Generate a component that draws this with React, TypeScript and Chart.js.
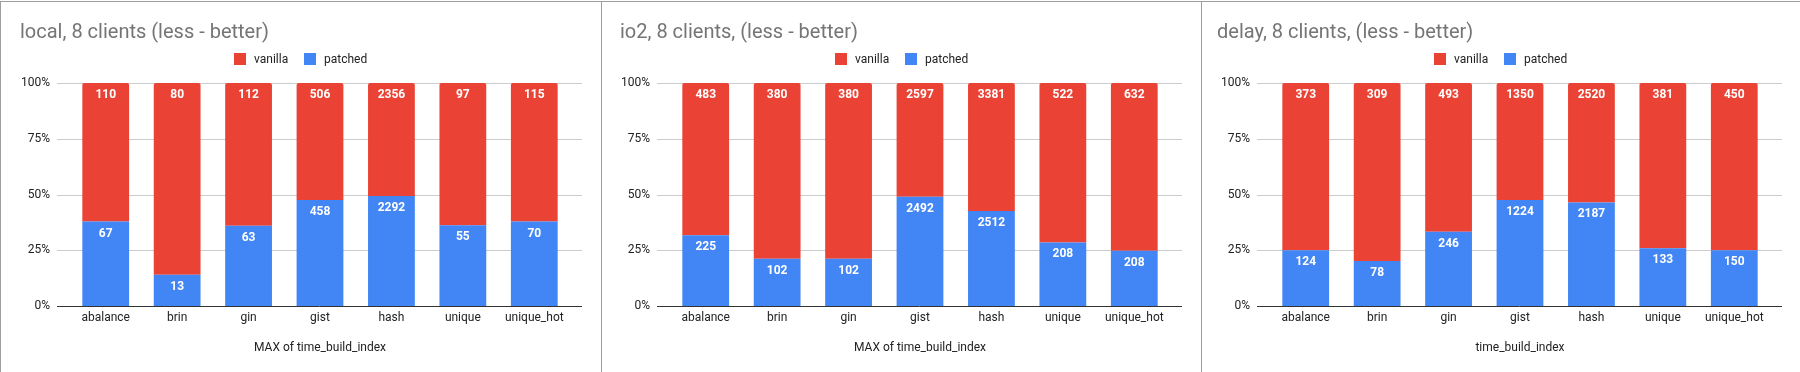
import React, { useEffect, useRef } from 'react';
import { Chart, registerables } from 'chart.js';

Chart.register(...registerables);

// ---- data ----
const categories = ['abalance', 'brin', 'gin', 'gist', 'hash', 'unique', 'unique_hot'];
const seriesNames = ['vanilla', 'patched'];

const localVanilla = [110, 80, 112, 506, 2356, 97, 115];
const localPatched = [67, 13, 63, 458, 2292, 55, 70];

const io2Vanilla = [483, 380, 380, 2597, 3381, 522, 632];
const io2Patched = [225, 102, 102, 2492, 2512, 208, 208];

const delayVanilla = [373, 309, 493, 1350, 2520, 381, 450];
const delayPatched = [124, 78, 246, 1224, 2187, 133, 150];

const yTickValues = [0, 25, 50, 75, 100];

const chartTitles = [
  'local, 8 clients (less - better)',
  'io2, 8 clients, (less - better)',
  'delay, 8 clients, (less - better)',
];
const xAxisTitles = ['MAX of time_build_index', 'MAX of time_build_index', 'time_build_index'];

// ---- styles ----
const FONT = 'Roboto, "Noto Sans", Arial, sans-serif';
const RED = '#EA4335';
const BLUE = '#4285F4';
const GRID = '#cccccc';
const BASE = '#333333';
const TEXT = '#222222';
const TITLE = '#757575';

type PanelLayout = { left: number; width: number; titleX: number; yw: number; pr: number; tickPad: number };
const layouts: PanelLayout[] = [
  { left: 1, width: 600, titleX: 19, yw: 69, pr: 31, tickPad: 20 },
  { left: 602, width: 599, titleX: 18, yw: 68, pr: 31, tickPad: 20 },
  { left: 1202, width: 598, titleX: 15, yw: 68, pr: 30, tickPad: 20 },
];
const CANVAS_TOP = 2;
const CANVAS_H = 370;

function pct(a: number[], b: number[]) {
  return a.map((v, i) => (v / (v + b[i])) * 100);
}

function makePlugin(title: string, titleX: number) {
  return {
    id: 'decor',
    beforeDatasetsDraw(chart: any) {
      const { ctx, chartArea, scales } = chart;
      ctx.save();
      ctx.strokeStyle = GRID;
      ctx.lineWidth = 1;
      yTickValues.forEach((v) => {
        if (v === 0) return;
        const y = Math.round(scales.y.getPixelForValue(v)) + 0.5;
        ctx.beginPath();
        ctx.moveTo(chartArea.left - 13, y);
        ctx.lineTo(chartArea.right + 12, y);
        ctx.stroke();
      });
      ctx.restore();
    },
    afterDatasetsDraw(chart: any) {
      const { ctx, chartArea, scales } = chart;
      ctx.save();
      // baseline
      ctx.strokeStyle = BASE;
      ctx.lineWidth = 1;
      const y0 = Math.round(scales.y.getPixelForValue(0)) + 0.5;
      ctx.beginPath();
      ctx.moveTo(chartArea.left - 13, y0);
      ctx.lineTo(chartArea.right + 12, y0);
      ctx.stroke();
      // data labels
      ctx.fillStyle = '#ffffff';
      ctx.font = `bold 12px ${FONT}`;
      ctx.textAlign = 'center';
      ctx.textBaseline = 'alphabetic';
      chart.data.datasets.forEach((ds: any, di: number) => {
        const meta = chart.getDatasetMeta(di);
        meta.data.forEach((el: any, i: number) => {
          ctx.fillText(String(ds.raw[i]), el.x, el.y + 15);
        });
      });
      ctx.restore();
    },
    afterDraw(chart: any) {
      const { ctx, width } = chart;
      ctx.save();
      // title
      ctx.fillStyle = TITLE;
      ctx.font = `20px ${FONT}`;
      ctx.textAlign = 'left';
      ctx.textBaseline = 'alphabetic';
      ctx.fillText(title, titleX, 35.7);
      // legend
      ctx.font = `12px ${FONT}`;
      const items = [...chart.data.datasets].reverse();
      const box = 12, gapText = 8, gapItem = 16;
      const widths = items.map((d: any) => box + gapText + ctx.measureText(d.label).width);
      const total = widths.reduce((a: number, b: number) => a + b, 0) + gapItem * (items.length - 1);
      let x = width / 2 - total / 2;
      items.forEach((d: any, i: number) => {
        ctx.fillStyle = d.backgroundColor;
        ctx.fillRect(Math.round(x), 51, box, box);
        ctx.fillStyle = TEXT;
        ctx.fillText(d.label, Math.round(x) + box + gapText, 61.3);
        x += widths[i] + gapItem;
      });
      ctx.restore();
    },
  };
}

function Panel({ idx, vanilla, patched }: { idx: number; vanilla: number[]; patched: number[] }) {
  const ref = useRef<HTMLCanvasElement | null>(null);
  const L = layouts[idx];
  useEffect(() => {
    if (!ref.current) return;
    const chart = new Chart(ref.current, {
      type: 'bar',
      data: {
        labels: categories,
        datasets: [
          {
            label: seriesNames[1],
            data: pct(patched, vanilla),
            raw: patched,
            backgroundColor: BLUE,
            borderRadius: 2,
            barPercentage: 0.655,
            categoryPercentage: 1,
          } as any,
          {
            label: seriesNames[0],
            data: pct(vanilla, patched),
            raw: vanilla,
            backgroundColor: RED,
            borderRadius: 2,
            barPercentage: 0.655,
            categoryPercentage: 1,
          } as any,
        ],
      },
      options: {
        animation: false,
        responsive: false,
        maintainAspectRatio: false,
        layout: { padding: { top: 81, right: L.pr, bottom: 0, left: 0 } },
        plugins: {
          legend: { display: false },
          title: { display: false },
          tooltip: { enabled: false },
        },
        scales: {
          x: {
            stacked: true,
            grid: { display: false, drawTicks: false },
            border: { display: false },
            ticks: {
              color: TEXT,
              font: { family: FONT, size: 12 },
              padding: 5,
              maxRotation: 0,
              autoSkip: false,
            },
            title: {
              display: true,
              text: xAxisTitles[idx],
              color: TEXT,
              font: { family: FONT, size: 12 },
              padding: { top: 0, bottom: 17 },
            },
            afterFit: (s: any) => {
              s.height = 66;
            },
          },
          y: {
            stacked: true,
            min: 0,
            max: 100,
            grid: { display: false, drawTicks: false },
            border: { display: false },
            ticks: {
              stepSize: 25,
              callback: (v: any) => v + '%',
              color: TEXT,
              font: { family: FONT, size: 12 },
              padding: L.tickPad,
            },
            afterFit: (s: any) => {
              s.width = L.yw;
            },
          },
        },
      } as any,
      plugins: [makePlugin(chartTitles[idx], L.titleX) as any],
    });
    return () => chart.destroy();
  }, []);
  return (
    <canvas
      ref={ref}
      width={L.width}
      height={CANVAS_H}
      style={{ position: 'absolute', left: L.left, top: CANVAS_TOP, width: L.width, height: CANVAS_H }}
    />
  );
}

export default function App() {
  useEffect(() => {
    document.body.style.margin = '0';
  }, []);
  const line = '#9e9e9e';
  return (
    <div style={{ position: 'relative', width: 1800, height: 372, background: '#fff', overflow: 'hidden' }}>
      <div style={{ position: 'absolute', left: 0, top: 1, width: 1800, height: 1, background: line }} />
      <div style={{ position: 'absolute', left: 0, top: 1, width: 1, height: 371, background: line }} />
      <div style={{ position: 'absolute', left: 601, top: 1, width: 1, height: 371, background: line }} />
      <div style={{ position: 'absolute', left: 1201, top: 1, width: 1, height: 371, background: line }} />
      <Panel idx={0} vanilla={localVanilla} patched={localPatched} />
      <Panel idx={1} vanilla={io2Vanilla} patched={io2Patched} />
      <Panel idx={2} vanilla={delayVanilla} patched={delayPatched} />
    </div>
  );
}
